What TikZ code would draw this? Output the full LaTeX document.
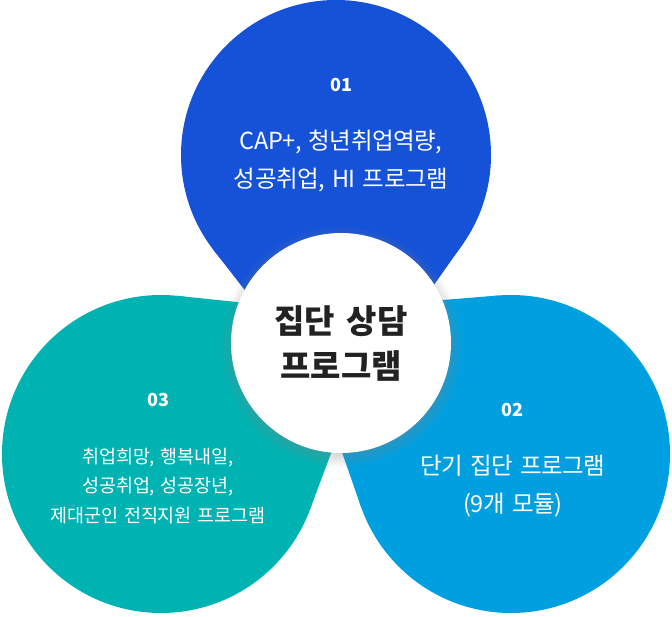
\documentclass[tikz,border=0pt]{standalone}
\usepackage{fontspec}
\setmainfont{Noto Sans CJK KR}[WordSpace=1.5]
\usetikzlibrary{calc,shadows}
\definecolor{cblue}{HTML}{1552D8}
\definecolor{cteal}{HTML}{00B3B3}
\definecolor{csky}{HTML}{00A0E0}
\definecolor{ctext}{HTML}{222222}
\begin{document}
\begin{tikzpicture}[x=1pt,y=1pt,
  disc/.style={circle,inner sep=0pt,outer sep=0pt,minimum size=#1},
  num/.style={font=\bfseries\fontsize{18}{18}\selectfont,text=white},
  desc/.style={font=\fontsize{23.5}{38}\selectfont\addfontfeatures{LetterSpace=-2},text=white,align=center},
  descsmall/.style={font=\fontsize{18.5}{29.5}\selectfont\addfontfeatures{LetterSpace=-1},text=white,align=center},
  title/.style={font=\bfseries\fontsize{33}{45}\selectfont,text=ctext,align=center}]
\useasboundingbox (0,0) rectangle (672,616);
% colored circles
\node[disc=310pt,fill=cblue] (c1) at (336,461) {};
\node[disc=318pt,fill=csky] (c2) at (511,162) {};
\node[disc=318pt,fill=cteal] (c3) at (161,162) {};
% tips of the drops
\coordinate (t1) at (342,201);
\coordinate (t2) at (293,304);
\coordinate (t3) at (382,299);
\fill[cblue] (t1) -- (tangent cs:node=c1,point={(t1)},solution=1) -- (c1.center)
  -- (tangent cs:node=c1,point={(t1)},solution=2) -- cycle;
\fill[csky] (t2) -- (tangent cs:node=c2,point={(t2)},solution=1) -- (c2.center)
  -- (tangent cs:node=c2,point={(t2)},solution=2) -- cycle;
\fill[cteal] (t3) -- (tangent cs:node=c3,point={(t3)},solution=1) -- (c3.center)
  -- (tangent cs:node=c3,point={(t3)},solution=2) -- cycle;
% center
\node[disc=220pt,fill=white,circular drop shadow={shadow xshift=0pt,shadow yshift=-3pt,shadow scale=1.1,opacity=0.4}] (ctr) at (341,273) {};
\node[title] (ttl) at (ctr) {집단 상담\\프로그램};
% texts
\node[num] (n1) at (341,531) {01};
\node[desc] (d1) at (341,455) {CAP+, 청년취업역량,\\성공취업, HI 프로그램};
\node[num] (n2) at (512,206) {02};
\node[desc] (d2) at (513,129.5) {단기 집단 프로그램\\(9개 모듈)};
\node[num] (n3) at (158,216) {03};
\node[descsmall] (d3) at (158,130) {취업희망, 행복내일,\\성공취업, 성공장년,\\제대군인 전직지원 프로그램};
\end{tikzpicture}
\end{document}
